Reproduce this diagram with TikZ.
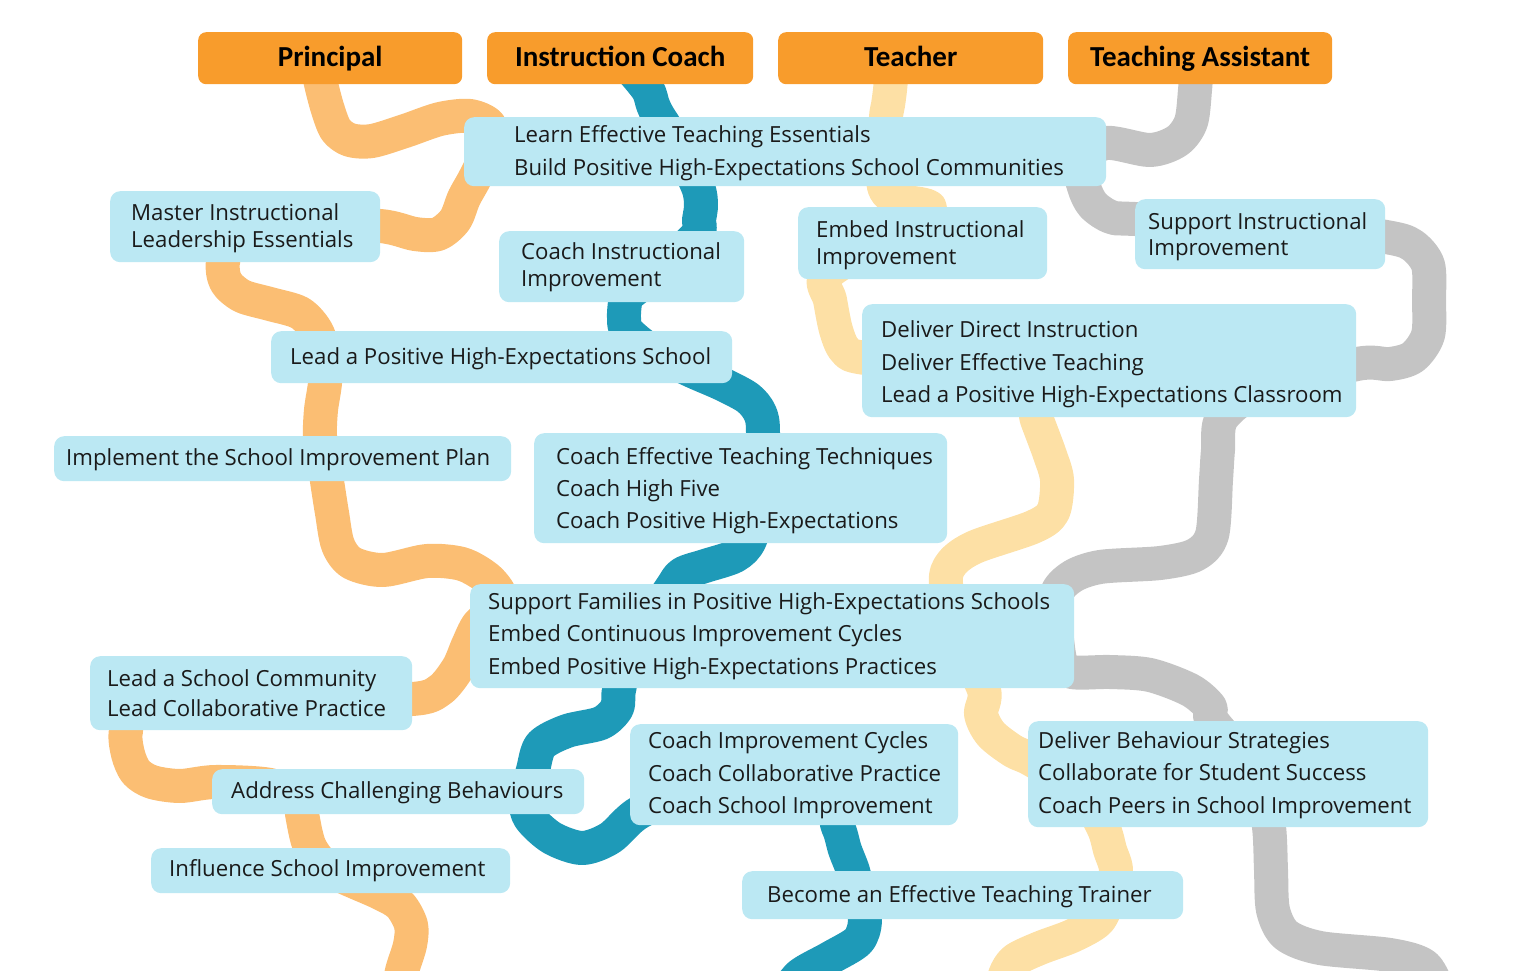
\documentclass[tikz,border=0pt]{standalone}
\usepackage{fontspec}
\setmainfont{Open Sans}
\newfontfamily\headfont{Carlito}
\pgfdeclarelayer{bg}
\pgfsetlayers{bg,main}
\definecolor{hdrorange}{HTML}{F89C2C}
\definecolor{boxblue}{HTML}{BBE8F3}
\definecolor{txtc}{HTML}{1A1A1A}
\definecolor{orib}{HTML}{FBBE73}
\definecolor{trib}{HTML}{1E9AB8}
\definecolor{yrib}{HTML}{FDE0A5}
\definecolor{grib}{HTML}{C4C4C4}
\begin{document}
\begin{tikzpicture}[x=1pt,y=-1pt,
 hdr/.style={fill=hdrorange, rounded corners=8pt, minimum height=52pt, inner sep=0pt, text height=21pt, text depth=4pt, anchor=north west, text=black, font=\headfont\bfseries\fontsize{29}{31}\selectfont},
 box/.style={fill=boxblue, rounded corners=10pt, inner sep=0pt, anchor=north west},
 txt/.style={anchor=west, inner sep=0pt, align=left, text=txtc, font=\fontsize{22.2}{#1}\selectfont},
 txt/.default=33,
 rib/.style={line width=34pt, line join=round},
]
\useasboundingbox (0,0) rectangle (1524,971);

% headers
\node[hdr, minimum width=264pt] (principal) at (198,32) {Principal};
\node[hdr, minimum width=266pt] (coach) at (487,32) {Instruction Coach};
\node[hdr, minimum width=265pt] (teacher) at (778,32) {Teacher};
\node[hdr, minimum width=264pt] (ta) at (1068,32) {Teaching Assistant};

% boxes
\node[box, minimum width=642pt, minimum height=69pt] (learn) at (464,117) {};
\node[txt=33] (learnt) at ([xshift=50pt,yshift=-1pt]learn.west) {Learn Effective Teaching Essentials\\Build Positive High-Expectations School Communities};

\node[box, minimum width=270pt, minimum height=71pt] (master) at (110,191) {};
\node[txt=27] (mastert) at ([xshift=21pt,yshift=-2pt]master.west) {Master Instructional\\Leadership Essentials};

\node[box, minimum width=245pt, minimum height=71pt] (coachinstr) at (499,231) {};
\node[txt=27] (coachinstrt) at ([xshift=22pt,yshift=-1pt]coachinstr.west) {Coach Instructional\\Improvement};

\node[box, minimum width=249pt, minimum height=72pt] (embed) at (798,207) {};
\node[txt=27] (embedt) at ([xshift=18pt,yshift=-2.5pt]embed.west) {Embed Instructional\\Improvement};

\node[box, minimum width=250pt, minimum height=70pt] (support) at (1135,199) {};
\node[txt=26] (supportt) at ([xshift=13pt,yshift=-2.5pt]support.west) {Support Instructional\\Improvement};

\node[box, minimum width=461pt, minimum height=52pt] (leadschool) at (271,331) {};
\node[txt] (leadschoolt) at ([xshift=19pt,yshift=-1.5pt]leadschool.west) {Lead a Positive High-Expectations School};

\node[box, minimum width=494pt, minimum height=113pt] (deliver) at (862,304) {};
\node[txt=32.5] (delivert) at ([xshift=19pt,yshift=-4pt]deliver.west) {Deliver Direct Instruction\\Deliver Effective Teaching\\Lead a Positive High-Expectations Classroom};

\node[box, minimum width=457pt, minimum height=45pt] (implement) at (54,436) {};
\node[txt] (implementt) at ([xshift=12pt,yshift=-1pt]implement.west) {Implement the School Improvement Plan};

\node[box, minimum width=413pt, minimum height=110pt] (coacheff) at (534,433) {};
\node[txt=32] (coachefft) at ([xshift=22pt,yshift=-2pt]coacheff.west) {Coach Effective Teaching Techniques\\Coach High Five\\Coach Positive High-Expectations};

\node[box, minimum width=604pt, minimum height=104pt] (families) at (470,584) {};
\node[txt=32.5] (familiest) at ([xshift=18pt]families.west) {Support Families in Positive High-Expectations Schools\\Embed Continuous Improvement Cycles\\Embed Positive High-Expectations Practices};

\node[box, minimum width=322pt, minimum height=74pt] (community) at (90,656) {};
\node[txt=30] (communityt) at ([xshift=17pt]community.west) {Lead a School Community\\Lead Collaborative Practice};

\node[box, minimum width=372pt, minimum height=45pt] (address) at (212,769) {};
\node[txt] (addresst) at ([xshift=19pt,yshift=-1.5pt]address.west) {Address Challenging Behaviours};

\node[box, minimum width=328pt, minimum height=101pt] (coachimp) at (630,724) {};
\node[txt=32.5] (coachimpt) at ([xshift=18pt,yshift=-1pt]coachimp.west) {Coach Improvement Cycles\\Coach Collaborative Practice\\Coach School Improvement};

\node[box, minimum width=400pt, minimum height=106pt] (behaviour) at (1028,721) {};
\node[txt=32.5] (behaviourt) at ([xshift=10pt,yshift=-1pt]behaviour.west) {Deliver Behaviour Strategies\\Collaborate for Student Success\\Coach Peers in School Improvement};

\node[box, minimum width=359pt, minimum height=45pt] (influence) at (151,848) {};
\node[txt] (influencet) at ([xshift=18pt]influence.west) {Influence School Improvement};

\node[box, minimum width=441pt, minimum height=48pt] (trainer) at (742,871) {};
\node[txt] (trainert) at ([xshift=25pt,yshift=-1.5pt]trainer.west) {Become an Effective Teaching Trainer};

% ribbons
\begin{pgfonlayer}{bg}
\draw[rib, orib] plot[smooth, tension=0.5] coordinates {
 ([xshift=-12pt,yshift=14pt]principal.south) (322,88) (328,110) (336,130) (350,140) (372,141) (405,131) (440,119) (470,116) (490,126)
 (488,150) (475,178) (464,198) (455,220) (438,234) (415,234) (380,226)
 (300,225) (235,240) (223,262) (226,282) (242,296) (270,304) (300,313) (317,332)
 (325,360) (325,383) (321,410) (320,436)
 (324,460) (327,481) (332,513) (338,545) (352,563) (383,570) (427,561) (462,564) (487,578) (500,595)
 (495,610) (478,625) (468,645) (458,668) (440,690) (412,699)
 (300,700) (140,705) (126,731) (128,754) (136,772) (152,782) (180,786) (215,782)
 (270,785) (300,800) (302,814) (310,847)
 (330,870) (380,893) (400,905) (411,925) (410,945) (402,971) (398,995)};
\draw[rib, trib] plot[smooth, tension=0.5] coordinates {
 ([xshift=12pt,yshift=14pt]coach.south) (648,90) (653,105) (659,117)
 (680,150) (698,187) (701,205) (699,220) (697,235)
 (660,270) (628,295) (625,303) (624,318) (627,331)
 (650,350) (690,370) (722,384) (748,398) (760,413) (763,433)
 (760,500) (750,540) (735,556) (705,566) (682,574) (670,590)
 (630,650) (619,690) (617,708) (601,723) (567,731) (541,745) (533,770)
 (526,800) (530,818) (552,838) (582,848) (610,838) (640,812)
 (700,790) (820,800) (838,827) (845,850) (853,871)
 (860,900) (865,921) (858,941) (830,958) (800,975) (785,995)};
\draw[rib, yrib] plot[smooth, tension=0.5] coordinates {
 ([xshift=-19pt,yshift=14pt]teacher.south) (890,90) (888,105) (886,117)
 (885,150) (884,187) (898,200) (930,209)
 (880,240) (826,275) (830,300) (836,330) (845,350) (865,358)
 (980,370) (1030,400) (1037,420) (1050,455) (1057,480) (1053,512) (1033,527) (975,547) (952,563) (946,584)
 (960,640) (984,690) (981,714) (991,734) (1013,751) (1032,760)
 (1080,790) (1103,827) (1110,850) (1116,871)
 (1108,900) (1098,921) (1072,936) (1040,948) (1015,960) (1005,975) (1002,995)};
\draw[rib, grib] plot[smooth, tension=0.5] coordinates {
 ([xshift=-4pt,yshift=14pt]ta.south) (1195,90) (1191,122) (1177,141) (1150,150) (1106,143)
 (1080,160) (1084,187) (1093,205) (1111,217) (1135,219)
 (1300,225) (1386,237) (1412,245) (1428,265) (1429,300) (1428,335) (1413,357) (1390,364) (1357,364)
 (1260,390) (1222,418) (1218,450) (1216,480) (1212,535) (1195,555) (1160,563) (1100,567) (1070,578) (1055,600)
 (1060,660) (1072,672) (1110,672) (1150,675) (1190,690) (1210,707) (1213,722)
 (1260,780) (1269,827) (1271,870) (1273,910) (1286,935) (1320,948) (1390,955) (1425,966) (1440,995)};
\end{pgfonlayer}
\end{tikzpicture}
\end{document}
